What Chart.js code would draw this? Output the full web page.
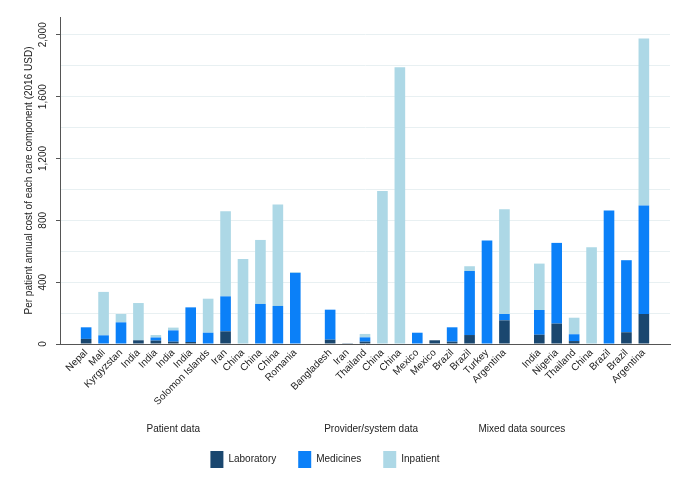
<!DOCTYPE html>
<html>
<head>
<meta charset="utf-8">
<script src="https://cdn.jsdelivr.net/npm/chart.js@4.4.1/dist/chart.umd.min.js"></script>
<style>
  html, body { margin: 0; padding: 0; background: #fff; }
  #wrap { width: 686px; height: 499px; }
</style>
</head>
<body>
<div id="wrap"><canvas id="costChart"></canvas></div>
<script>
// Data (2016 USD per patient per year)
const groupNames = ['Patient data', 'Provider/system data', 'Mixed data sources'];

const patientCountries = ['Nepal', 'Mali', 'Kyrgyzstan', 'India', 'India', 'India', 'India', 'Solomon Islands', 'Iran', 'China', 'China', 'China', 'Romania'];
const patientLab = [33, 0, 0, 24, 22, 15, 13, 0, 82, 0, 0, 0, 0];
const patientMed = [75, 56, 140, 0, 20, 73, 224, 73, 226, 0, 259, 246, 460];
const patientInp = [0, 281, 54, 241, 16, 18, 0, 220, 551, 550, 414, 656, 5];

const providerCountries = ['Bangladesh', 'Iran', 'Thailand', 'China', 'China', 'Mexico', 'Mexico', 'Brazil', 'Brazil', 'Turkey', 'Argentina'];
const providerLab = [28, 5, 15, 0, 0, 0, 24, 15, 58, 0, 153];
const providerMed = [194, 0, 28, 0, 0, 73, 0, 93, 414, 669, 41];
const providerInp = [0, 0, 22, 990, 1790, 0, 0, 0, 31, 0, 678];

const mixedCountries = ['India', 'Nigeria', 'Thailand', 'China', 'Brazil', 'Brazil', 'Argentina'];
const mixedLab = [60, 132, 19, 0, 0, 76, 194];
const mixedMed = [160, 522, 44, 0, 863, 466, 701];
const mixedInp = [300, 0, 107, 626, 0, 0, 1081];

const yTickLabels = [0, 400, 800, 1200, 1600, 2000];

// empty slots before, between and after the three groups
function withGaps(a, b, c, blank) {
  return [blank, ...a, blank, ...b, blank, ...c, blank];
}

const labels = withGaps(patientCountries, providerCountries, mixedCountries, '');
// where each group caption sits, in category units
const groupLabelAt = [6, 17.35, 26];

const FONT = 'Liberation Sans, Arial, Helvetica, sans-serif';
const TEXT = '#222';

// rotated y tick labels + group captions
const extras = {
  id: 'extras',
  afterLayout(chart) {
    // legend in the reference sits a bit left of centre
    chart.legend.left -= 18;
    chart.legend.right -= 18;
  },
  afterDraw(chart) {
    const ctx = chart.ctx;
    const y = chart.scales.y;
    const x = chart.scales.x;
    ctx.save();
    ctx.fillStyle = TEXT;
    ctx.font = '10px ' + FONT;
    ctx.textAlign = 'center';
    ctx.textBaseline = 'middle';
    yTickLabels.forEach(v => {
      ctx.save();
      ctx.translate(y.right - 17, y.getPixelForValue(v));
      ctx.rotate(-Math.PI / 2);
      ctx.fillText(v.toLocaleString('en-US'), 0, 0);
      ctx.restore();
    });
    groupNames.forEach((g, i) => {
      ctx.fillText(g, x.getPixelForValue(groupLabelAt[i]), chart.legend.top);
    });
    ctx.restore();
  }
};

new Chart(document.getElementById('costChart'), {
  type: 'bar',
  data: {
    labels: labels,
    datasets: [
      {
        label: 'Laboratory',
        data: withGaps(patientLab, providerLab, mixedLab, null),
        backgroundColor: '#1a476f'
      },
      {
        label: 'Medicines',
        data: withGaps(patientMed, providerMed, mixedMed, null),
        backgroundColor: '#0b80f8'
      },
      {
        label: 'Inpatient',
        data: withGaps(patientInp, providerInp, mixedInp, null),
        backgroundColor: '#add8e6'
      }
    ]
  },
  options: {
    responsive: true,
    maintainAspectRatio: false,
    animation: false,
    datasets: {
      bar: { barPercentage: 0.61, categoryPercentage: 1, borderWidth: 0 }
    },
    layout: { padding: { left: 16, right: 16, top: 17, bottom: 21 } },
    plugins: {
      legend: {
        position: 'bottom',
        labels: {
          boxWidth: 13,
          boxHeight: 17,
          padding: 22,
          color: TEXT,
          font: { family: FONT, size: 10 }
        }
      },
      tooltip: { enabled: false }
    },
    scales: {
      x: {
        stacked: true,
        grid: { display: false, drawTicks: false },
        border: { color: '#555', width: 1 },
        ticks: {
          autoSkip: false,
          minRotation: 45,
          maxRotation: 45,
          padding: 3,
          color: TEXT,
          font: { family: FONT, size: 10 }
        },
        afterFit(scale) { scale.height = 85; }
      },
      y: {
        stacked: true,
        min: 0,
        max: 2115,
        afterBuildTicks(scale) {
          scale.ticks = scale.ticks.filter(t => t.value <= 2000);
        },
        ticks: { display: false, stepSize: 200 },
        grid: {
          color: '#e8f0f2',
          lineWidth: 1,
          tickLength: 4,
          tickColor: c => (c.tick && c.tick.value % 400 === 0) ? '#555' : 'rgba(0,0,0,0)'
        },
        border: { color: '#555', width: 1 },
        title: {
          display: true,
          text: 'Per patient annual cost of each care component (2016 USD)',
          color: TEXT,
          font: { family: FONT, size: 10 },
          padding: { top: 7, bottom: 0 }
        },
        afterFit(scale) { scale.width = 44; }
      }
    }
  },
  plugins: [extras]
});
</script>
</body>
</html>
